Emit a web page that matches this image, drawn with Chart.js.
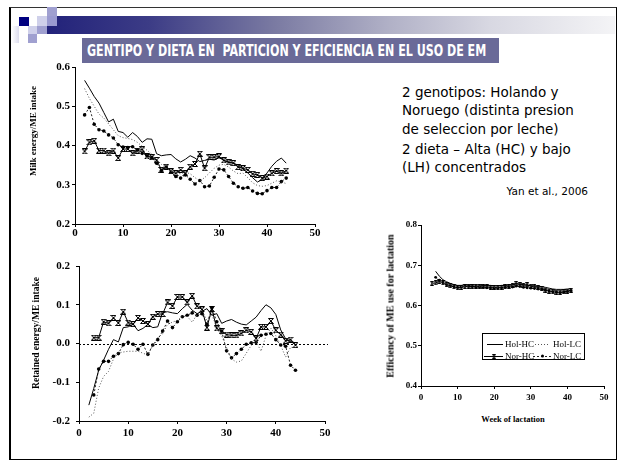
<!DOCTYPE html>
<html>
<head>
<meta charset="utf-8">
<title>Gentipo y dieta</title>
<script src="https://cdn.jsdelivr.net/npm/chart.js@4.4.0/dist/chart.umd.min.js"></script>
<style>
body{margin:0;background:#fff;}
#slide{position:relative;width:620px;height:462px;overflow:hidden;background:#fff;font-family:"DejaVu Sans",sans-serif;color:#000;}
.abs{position:absolute;}
#frame{left:9px;top:7px;width:608px;height:453px;border-left:2px solid #000;border-top:1px solid #333;border-right:1px solid #000;border-bottom:1px solid #000;box-sizing:border-box;}
#bar{left:47px;top:16px;width:568px;height:18px;background:linear-gradient(to right,#22227a 0%,#3c3c86 18%,#7a7aa2 40%,#b0b0c6 60%,#d8d8e2 78%,#f4f4f6 100%);}
#title{left:82px;top:38px;width:417px;height:25px;background:#6a6a98;}
#titleText{left:87px;top:38px;height:25px;line-height:25px;color:#fff;font-family:"DejaVu Sans Condensed","DejaVu Sans",sans-serif;font-weight:bold;font-size:16px;white-space:nowrap;transform-origin:0 50%;}
.side{left:402px;font-size:13.5px;line-height:18.5px;white-space:nowrap;}
#cite{right:32px;top:184px;font-size:10.5px;line-height:14px;}
.ytitle{font-family:"Liberation Serif","Times New Roman",serif;font-weight:bold;white-space:nowrap;transform:translate(-50%,-50%) rotate(-90deg);}
.xtitle{font-family:"Liberation Serif","Times New Roman",serif;font-weight:bold;white-space:nowrap;transform:translate(-50%,-50%);}
canvas{position:absolute;}
</style>
</head>
<body>
<div id="slide">
  <div id="frame" class="abs"></div>
  <div id="bar" class="abs"></div>
  <div class="abs" style="left:12px;top:26px;width:7px;height:17px;background:linear-gradient(to right,#fff,#dcdcee);"></div>
  <div class="abs" style="left:19px;top:17px;width:10px;height:9px;background:#000080;"></div>
  <div class="abs" style="left:37px;top:16px;width:10px;height:10px;background:#cfd0ea;"></div>
  <div class="abs" style="left:47px;top:7px;width:10px;height:9px;background:#a0a0d0;"></div>
  <div class="abs" style="left:47px;top:16px;width:10px;height:10px;background:#9a9ad0;"></div>
  <div class="abs" style="left:28px;top:26px;width:9px;height:8px;background:#cfd0ea;"></div>
  <div class="abs" style="left:37px;top:26px;width:10px;height:8px;background:#a0a0d0;"></div>
  <div class="abs" style="left:28px;top:34px;width:9px;height:9px;background:#a0a0d0;"></div>
  <div id="title" class="abs"></div>
  <div id="titleText" class="abs">GENTIPO Y DIETA EN &nbsp;PARTICION Y EFICIENCIA EN EL USO DE EM</div>

  <div class="abs side" style="top:82.5px;">2 genotipos: Holando y<br>Noruego (distinta presion<br>de seleccion por leche)</div>
  <div class="abs side" style="top:139.5px;">2 dieta &ndash; Alta (HC) y bajo<br>(LH) concentrados</div>
  <div id="cite" class="abs">Yan et al., 2006</div>

  <canvas id="c1" width="310" height="190" style="left:20px;top:55px;"></canvas>
  <canvas id="c2" width="310" height="191" style="left:30px;top:250px;"></canvas>
  <canvas id="c3" width="221" height="190" style="left:395px;top:212px;"></canvas>

  <div class="abs ytitle" style="left:33px;top:131px;font-size:9px;">Milk energy/ME intake</div>
  <div class="abs ytitle" style="left:36px;top:333px;font-size:9.5px;">Retained energy/ME intake</div>
  <div class="abs ytitle" style="left:390px;top:306px;font-size:10px;">Efficiency of ME use for lactation</div>
  <div class="abs xtitle" style="left:513px;top:419px;font-size:8.5px;">Week of lactation</div>
</div>

<script>
//data -start
var seriesNames = ['Hol-HC', 'Hol-LC', 'Nor-HC', 'Nor-LC'];
var xTicks = [0, 10, 20, 30, 40, 50];

// weeks 2..44 (top-left and bottom-left charts)
var weeks = [2,3,4,5,6,7,8,9,10,11,12,13,14,15,16,17,18,19,20,21,22,23,24,25,26,27,28,29,30,31,32,33,34,35,36,37,38,39,40,41,42,43,44];

var milkHolHC = [0.566,0.546,0.525,0.508,0.484,0.460,0.467,0.436,0.433,0.421,0.433,0.423,0.408,0.417,0.416,0.379,0.374,0.376,0.377,0.366,0.358,0.365,0.374,0.368,0.359,0.362,0.365,0.363,0.370,0.362,0.358,0.355,0.350,0.340,0.330,0.318,0.307,0.313,0.330,0.347,0.360,0.368,0.355];
var milkHolLC = [0.545,0.520,0.500,0.480,0.470,0.455,0.440,0.425,0.420,0.418,0.415,0.408,0.398,0.388,0.378,0.365,0.352,0.342,0.335,0.330,0.328,0.332,0.328,0.318,0.310,0.318,0.330,0.342,0.350,0.352,0.345,0.335,0.328,0.330,0.318,0.305,0.298,0.296,0.298,0.304,0.310,0.307,0.303];
var milkNorHC = [0.385,0.408,0.412,0.387,0.387,0.380,0.387,0.368,0.391,0.391,0.380,0.387,0.390,0.372,0.370,0.363,0.338,0.346,0.334,0.329,0.338,0.329,0.346,0.353,0.379,0.342,0.370,0.370,0.372,0.362,0.357,0.355,0.345,0.342,0.338,0.328,0.325,0.317,0.321,0.329,0.335,0.329,0.336];
var milkNorLC = [0.478,0.497,0.454,0.440,0.437,0.427,0.419,0.402,0.396,0.395,0.397,0.389,0.380,0.374,0.369,0.355,0.336,0.345,0.332,0.321,0.317,0.325,0.314,0.302,0.311,0.295,0.297,0.319,0.340,0.338,0.321,0.304,0.295,0.291,0.293,0.284,0.278,0.277,0.285,0.293,0.293,0.308,0.317];

var retHolHC = [-0.159,-0.116,-0.069,-0.043,-0.015,0.010,0.004,0.041,0.043,0.050,0.033,0.039,0.049,0.041,0.043,0.080,0.082,0.079,0.077,0.090,0.101,0.086,0.077,0.083,0.090,0.073,0.077,0.052,0.058,0.062,0.055,0.050,0.048,0.058,0.068,0.085,0.100,0.092,0.075,0.035,0.012,0.005,-0.002];
var retHolLC = [-0.190,-0.180,-0.115,-0.085,-0.072,-0.040,-0.024,-0.022,-0.020,-0.020,-0.020,-0.025,-0.030,-0.005,0.015,0.025,0.050,0.055,0.060,0.070,0.070,0.055,0.075,0.085,0.060,0.075,0.040,0.020,-0.010,-0.040,-0.048,-0.045,-0.025,-0.005,0.005,-0.020,0.020,0.040,0.020,-0.005,-0.035,-0.010,-0.010];
var retNorHC = [null,0.015,0.015,0.056,0.052,0.066,0.053,0.082,0.054,0.050,0.066,0.058,0.050,0.069,0.076,0.076,0.106,0.097,0.120,0.120,0.106,0.123,0.096,0.088,0.041,0.089,0.039,0.032,0.023,0.021,0.021,0.026,0.034,0.030,0.013,0.043,0.043,0.058,0.034,0.023,0.007,0.010,-0.004];
var retNorLC = [null,-0.133,-0.066,-0.046,-0.046,-0.033,-0.026,-0.003,0.003,-0.002,-0.015,-0.002,-0.028,-0.004,0.010,0.032,0.058,0.041,0.056,0.069,0.073,0.079,0.073,0.077,0.050,0.092,0.056,0.032,-0.019,-0.037,-0.026,-0.015,-0.002,0.002,0.003,0.021,0.024,0.026,0.010,-0.004,-0.007,-0.056,-0.069];

// weeks 3..41 (right chart)
var effWeeks = [3,4,5,6,7,8,9,10,11,12,13,14,15,16,17,18,19,20,21,22,23,24,25,26,27,28,29,30,31,32,33,34,35,36,37,38,39,40,41];
var effHolHC = [null,0.685,0.673,0.664,0.659,0.655,0.652,0.650,0.650,0.652,0.651,0.652,0.651,0.651,0.650,0.650,0.650,0.649,0.649,0.650,0.650,0.651,0.652,0.654,0.653,0.652,0.650,0.649,0.648,0.648,0.647,0.645,0.643,0.641,0.640,0.640,0.640,0.641,0.642];
var effHolLC = [0.654,0.657,0.658,0.656,0.654,0.652,0.650,0.648,0.647,0.648,0.649,0.650,0.649,0.648,0.648,0.647,0.647,0.646,0.646,0.647,0.648,0.649,0.650,0.652,0.651,0.650,0.649,0.648,0.647,0.648,0.646,0.644,0.641,0.639,0.638,0.637,0.637,0.638,0.640];
var effNorHC = [0.655,0.656,0.660,0.656,0.652,0.649,0.646,0.644,0.645,0.647,0.648,0.647,0.648,0.647,0.646,0.646,0.645,0.645,0.644,0.645,0.646,0.647,0.650,0.655,0.652,0.650,0.652,0.648,0.646,0.645,0.642,0.638,0.636,0.634,0.633,0.633,0.634,0.636,0.638];
var effNorLC = [null,0.670,0.663,0.657,0.652,0.650,0.647,0.645,0.646,0.648,0.648,0.647,0.646,0.646,0.645,0.644,0.644,0.643,0.643,0.644,0.645,0.646,0.646,0.648,0.647,0.645,0.644,0.643,0.642,0.641,0.640,0.638,0.636,0.634,0.633,0.632,0.633,0.635,0.637];
//data -end

//fit title text to its box
var tt = document.getElementById('titleText');
tt.style.transform = 'scaleX(' + (399 / tt.scrollWidth) + ')';

//hourglass marker - start
function hourglass(w, h) {
	var c = document.createElement('canvas');
	c.width = w; c.height = h;
	var g = c.getContext('2d');
	g.strokeStyle = '#000';
	g.lineWidth = 1;
	g.beginPath();
	g.moveTo(0.5, 0.5); g.lineTo(w - 0.5, 0.5);
	g.lineTo(0.5, h - 0.5); g.lineTo(w - 0.5, h - 0.5);
	g.lineTo(0.5, 0.5);
	g.stroke();
	return c;
}
//hourglass marker - end

function makeSets(a, b, c, d, mark, dot) {
	return [
		{ label: seriesNames[0], data: a, borderColor: '#000', borderWidth: 1, pointRadius: 0 },
		{ label: seriesNames[1], data: b, borderColor: '#555', borderWidth: 1, borderDash: [1, 2], pointRadius: 0 },
		{ label: seriesNames[2], data: c, borderColor: '#000', borderWidth: 1, pointStyle: mark, pointRadius: 3 },
		{ label: seriesNames[3], data: d, borderColor: '#222', borderWidth: 1, borderDash: [2, 2], pointStyle: 'circle',
			pointRadius: dot, pointBackgroundColor: '#000', pointBorderColor: '#000', pointBorderWidth: 0 }
	];
}

function xAxis(size, pad, h) {
	return {
		type: 'linear', min: 0, max: 50,
		afterBuildTicks: function(s) { s.ticks = xTicks.map(function(v) { return { value: v }; }); },
		ticks: { font: { family: '"Liberation Serif"', weight: 'bold', size: size }, color: '#000', padding: pad, maxRotation: 0 },
		grid: { drawOnChartArea: false, drawTicks: true, tickLength: 3, color: '#000' },
		border: { color: '#000', width: 1 },
		afterFit: function(s) { s.height = h; }
	};
}

function yAxis(min, max, size, pad, w) {
	return {
		min: min, max: max,
		ticks: { stepSize: 0.1, font: { family: '"Liberation Serif"', weight: 'bold', size: size }, color: '#000', padding: pad,
			callback: function(v) { return v.toFixed(1); } },
		grid: { drawOnChartArea: false, drawTicks: true, tickLength: 3, color: '#000' },
		border: { color: '#000', width: 1 },
		afterFit: function(s) { s.width = w; }
	};
}

function baseOptions(xa, ya, pad) {
	return {
		responsive: false, animation: false, devicePixelRatio: 1,
		layout: { padding: pad },
		elements: { line: { tension: 0 } },
		plugins: { legend: { display: false }, tooltip: { enabled: false } },
		scales: { x: xa, y: ya }
	};
}

//zero line for retained energy chart
var zeroLine = {
	id: 'zeroLine',
	beforeDatasetsDraw: function(chart) {
		var ctx = chart.ctx, a = chart.chartArea;
		var y = Math.round(chart.scales.y.getPixelForValue(0)) + 0.5;
		ctx.save();
		ctx.strokeStyle = '#000';
		ctx.lineWidth = 1;
		ctx.setLineDash([2, 2]);
		ctx.beginPath();
		ctx.moveTo(a.left, y);
		ctx.lineTo(a.right + 3, y);
		ctx.stroke();
		ctx.restore();
	}
};

//boxed legend inside efficiency chart
var boxLegend = {
	id: 'boxLegend',
	afterDraw: function(chart) {
		var ctx = chart.ctx, a = chart.chartArea, ds = chart.data.datasets;
		var x0 = a.left + 61, y0 = a.top + 108;
		ctx.save();
		ctx.strokeStyle = '#000';
		ctx.lineWidth = 1;
		ctx.strokeRect(x0 + 0.5, y0 + 0.5, 102, 26);
		ctx.font = '9px "Liberation Serif"';
		ctx.fillStyle = '#000';
		ctx.textBaseline = 'middle';
		// dataset, sample start, sample end, text x, row y
		var cells = [[0, 5, 21, 23, 11], [1, 53, 68, 71, 11], [2, 2, 21, 23, 22.5], [3, 51, 70, 71, 22.5]];
		cells.forEach(function(c) {
			var d = ds[c[0]], y = y0 + c[4];
			ctx.strokeStyle = d.borderColor;
			ctx.setLineDash(d.borderDash || []);
			ctx.beginPath();
			ctx.moveTo(x0 + c[1], Math.round(y) + 0.5);
			ctx.lineTo(x0 + c[2], Math.round(y) + 0.5);
			ctx.stroke();
			ctx.setLineDash([]);
			var mx = x0 + (c[1] + c[2]) / 2;
			if (d.pointRadius > 0) {
				if (d.pointStyle === 'circle') {
					ctx.beginPath();
					ctx.arc(mx, y + 0.5, 1.5, 0, Math.PI * 2);
					ctx.fill();
				} else {
					ctx.drawImage(d.pointStyle, Math.round(mx - d.pointStyle.width / 2), Math.round(y - d.pointStyle.height / 2) + 1);
				}
			}
			ctx.fillText(d.label, x0 + c[3], y + 1);
		});
		ctx.restore();
	}
};

//chart 1 - milk energy - start
new Chart(document.getElementById('c1'), {
	type: 'line',
	data: { labels: weeks, datasets: makeSets(milkHolHC, milkHolLC, milkNorHC, milkNorLC, hourglass(6, 6), 1.8) },
	options: baseOptions(xAxis(11, 0, 21), yAxis(0.2, 0.6, 11, 2, 55), { top: 12, right: 15, left: 0, bottom: 0 })
});
//chart 1 - end

//chart 2 - retained energy - start
new Chart(document.getElementById('c2'), {
	type: 'line',
	data: { labels: weeks, datasets: makeSets(retHolHC, retHolLC, retNorHC, retNorLC, hourglass(6, 6), 1.8) },
	options: baseOptions(xAxis(11, 3, 20), yAxis(-0.2, 0.2, 11, 6, 49), { top: 16, right: 15, left: 0, bottom: 0 }),
	plugins: [zeroLine]
});
//chart 2 - end

//chart 3 - efficiency - start
new Chart(document.getElementById('c3'), {
	type: 'line',
	data: { labels: effWeeks, datasets: makeSets(effHolHC, effHolLC, effNorHC, effNorLC, hourglass(4, 5), 1.4) },
	options: baseOptions(xAxis(9, 3, 16), yAxis(0.4, 0.8, 9, 1, 26), { top: 13, right: 12, left: 0, bottom: 0 }),
	plugins: [boxLegend]
});
//chart 3 - end
</script>
</body>
</html>
